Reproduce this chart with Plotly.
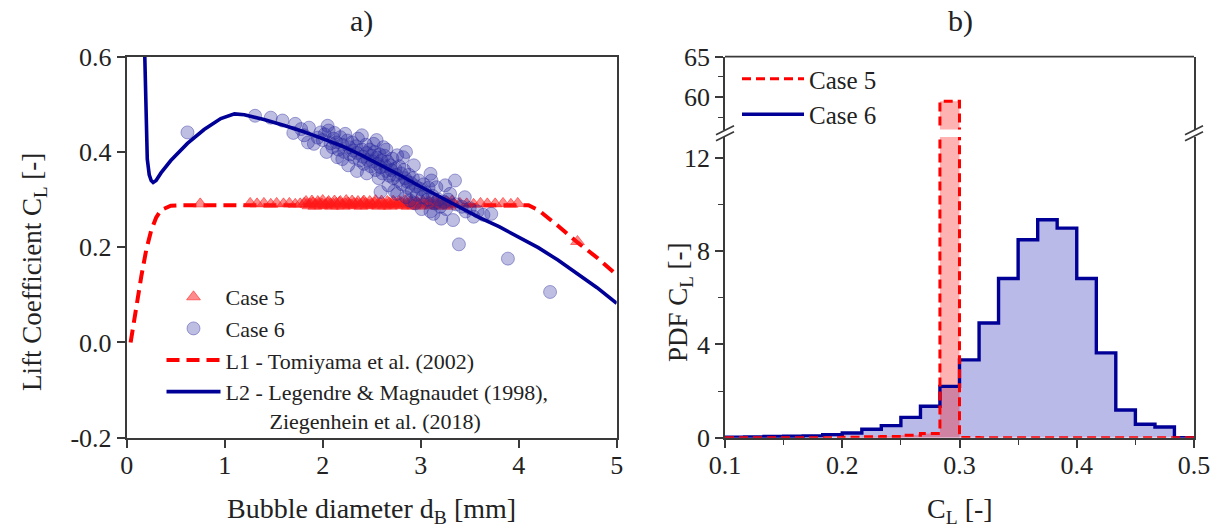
import plotly.graph_objects as go

W, H = 1223, 530
FONT = "Liberation Serif"
INK = "#222222"
AXIS = "#3a3a3a"

# ---------------- panel a): lift coefficient vs bubble diameter ----------------
# L1 - Tomiyama et al. (2002)
l1_d = [0.04, 0.10, 0.15, 0.20, 0.25, 0.30, 0.35, 0.45, 0.55, 4.10, 4.20, 4.40, 4.60, 4.80, 5.00]
l1_cl = [0.000, 0.080, 0.140, 0.195, 0.235, 0.262, 0.278, 0.287, 0.288, 0.288, 0.278, 0.245, 0.210, 0.178, 0.142]

# L2 - Legendre & Magnaudet (1998), Ziegenhein et al. (2018)
l2_d = [0.18, 0.19, 0.20, 0.21, 0.23, 0.25, 0.27, 0.30, 0.35, 0.45, 0.62, 0.79, 0.96, 1.10,
        1.20, 1.40, 1.60, 1.80, 2.00, 2.20, 2.40, 2.60, 2.80, 3.00, 3.20, 3.40, 3.60,
        3.80, 4.00, 4.20, 4.40, 4.60, 4.80, 5.00]
l2_cl = [0.640, 0.520, 0.430, 0.385, 0.352, 0.340, 0.336, 0.340, 0.356, 0.382, 0.418, 0.447,
         0.470, 0.480, 0.478, 0.468, 0.456, 0.443, 0.428, 0.412, 0.393, 0.372, 0.350, 0.327,
         0.305, 0.283, 0.262, 0.243, 0.222, 0.199, 0.173, 0.145, 0.115, 0.082]

# Case 5 bubbles
case5_d = [0.75, 1.26, 1.33, 1.40, 1.47, 1.53, 1.60, 1.66, 1.72, 1.77, 1.81, 1.84, 1.87, 1.90,
           1.93, 1.96, 1.99, 2.02, 2.05, 2.08, 2.11, 2.14, 2.17, 2.20, 2.23, 2.26, 2.29, 2.32,
           2.35, 2.38, 2.41, 2.44, 2.47, 2.50, 2.53, 2.56, 2.59, 2.62, 2.65, 2.68, 2.71, 2.74,
           2.77, 2.80, 2.83, 2.86, 2.89, 2.92, 2.95, 2.98, 3.01, 3.04, 3.07, 3.10, 3.13, 3.16,
           3.19, 3.22, 3.25, 3.28, 3.31, 3.34, 3.40, 3.47, 3.54, 3.61, 3.68, 3.76, 3.84, 3.92,
           3.99, 4.60,
           1.83, 1.89, 1.95, 2.00, 2.06, 2.12, 2.18, 2.24, 2.30, 2.36, 2.42, 2.48, 2.54, 2.60,
           2.66, 2.72, 2.78, 2.84, 2.90, 2.96, 3.02, 3.08, 3.14, 3.20, 3.26, 3.32,
           1.86, 1.92, 1.98, 2.03, 2.09, 2.15, 2.21, 2.27, 2.33, 2.39, 2.45, 2.51, 2.57, 2.63,
           2.69, 2.75, 2.81, 2.87, 2.93, 2.99, 3.05, 3.11, 3.17, 3.23, 3.29]
case5_cl = [0.291, 0.292, 0.291, 0.292, 0.290, 0.292, 0.291, 0.292, 0.290, 0.291, 0.292, 0.290,
            0.291, 0.293, 0.290, 0.292, 0.291, 0.289, 0.293, 0.291, 0.290, 0.292, 0.294, 0.290,
            0.291, 0.293, 0.289, 0.292, 0.291, 0.290, 0.294, 0.292, 0.289, 0.291, 0.293, 0.290,
            0.292, 0.291, 0.289, 0.293, 0.290, 0.292, 0.291, 0.294, 0.290, 0.291, 0.292, 0.289,
            0.293, 0.291, 0.290, 0.292, 0.291, 0.293, 0.290, 0.291, 0.292, 0.290, 0.291, 0.292,
            0.290, 0.291, 0.292, 0.291, 0.290, 0.292, 0.291, 0.291, 0.292, 0.290, 0.292, 0.212,
            0.296, 0.297, 0.296, 0.298, 0.296, 0.297, 0.296, 0.298, 0.297, 0.296, 0.297, 0.296,
            0.298, 0.297, 0.296, 0.297, 0.296, 0.298, 0.297, 0.296, 0.297, 0.296, 0.298, 0.297,
            0.296, 0.297,
            0.287, 0.286, 0.287, 0.288, 0.286, 0.287, 0.286, 0.288, 0.287, 0.286, 0.287, 0.288,
            0.286, 0.287, 0.286, 0.288, 0.287, 0.286, 0.287, 0.286, 0.288, 0.287, 0.286, 0.287,
            0.286]

# Case 6 bubbles
case6_d = [0.62, 1.31, 1.47, 1.59, 1.72, 1.86, 1.81, 1.91, 1.98, 2.06, 2.11, 2.18, 2.25, 2.04,
           2.15, 2.31, 2.38, 2.52, 2.62, 2.59, 2.76, 2.82, 2.93, 3.10, 3.11, 3.35, 3.16, 3.30,
           2.59, 2.76, 2.89, 3.13, 3.21, 3.33, 3.54, 3.72, 3.39, 3.89, 4.32,
           1.95, 2.00, 2.02, 2.08, 2.10, 2.12, 2.14, 2.16, 2.20, 2.22, 2.23, 2.27, 2.28, 2.30,
           2.32, 2.34, 2.35, 2.36, 2.40, 2.41, 2.42, 2.44, 2.45, 2.46, 2.48, 2.49, 2.50, 2.51,
           2.53, 2.54, 2.55, 2.56, 2.58, 2.60, 2.61, 2.63, 2.64, 2.65, 2.66, 2.68, 2.69, 2.70,
           2.71, 2.72, 2.74, 2.75, 2.77, 2.78, 2.80, 2.81, 2.83, 2.84, 2.86, 2.87, 2.88, 2.90,
           2.91, 2.92, 2.95, 2.96, 2.98, 3.00, 3.02, 3.03, 3.05, 3.07, 3.08, 3.12, 3.14, 3.18,
           3.20, 3.24, 3.26, 3.28, 3.36, 3.42, 3.46, 3.50, 3.58, 3.64, 2.35, 2.45, 2.57, 2.67,
           2.73, 2.85, 2.94, 3.01, 3.10, 2.20, 2.26, 1.85, 1.78, 1.70, 2.05, 2.40, 2.55, 2.65,
           2.85, 3.25, 3.45]
case6_cl = [0.441, 0.476, 0.472, 0.466, 0.459, 0.451, 0.435, 0.417, 0.441, 0.445, 0.428, 0.431,
            0.424, 0.400, 0.389, 0.403, 0.382, 0.417, 0.410, 0.368, 0.393, 0.389, 0.372, 0.354,
            0.340, 0.340, 0.326, 0.312, 0.316, 0.312, 0.298, 0.270, 0.260, 0.257, 0.264, 0.270,
            0.206, 0.176, 0.106,
            0.430, 0.425, 0.437, 0.418, 0.410, 0.440, 0.420, 0.405, 0.415, 0.400, 0.438, 0.410,
            0.395, 0.420, 0.388, 0.412, 0.398, 0.428, 0.405, 0.390, 0.375, 0.415, 0.398, 0.383,
            0.405, 0.370, 0.392, 0.380, 0.400, 0.362, 0.388, 0.375, 0.395, 0.382, 0.355, 0.392,
            0.370, 0.360, 0.380, 0.350, 0.372, 0.362, 0.386, 0.345, 0.365, 0.352, 0.340, 0.370,
            0.355, 0.332, 0.362, 0.345, 0.338, 0.325, 0.352, 0.335, 0.318, 0.345, 0.328, 0.310,
            0.340, 0.322, 0.305, 0.332, 0.315, 0.300, 0.325, 0.308, 0.292, 0.300, 0.285, 0.295,
            0.280, 0.300, 0.290, 0.285, 0.275, 0.282, 0.275, 0.268, 0.360, 0.355, 0.345, 0.330,
            0.318, 0.305, 0.292, 0.280, 0.275, 0.385, 0.372, 0.420, 0.448, 0.440, 0.455, 0.435,
            0.425, 0.405, 0.400, 0.330, 0.305]

# ---------------- panel b): PDF of the lift coefficient ----------------
bin_edges = [0.1000, 0.1167, 0.1333, 0.1500, 0.1667, 0.1833, 0.2000, 0.2167, 0.2333, 0.2500,
             0.2667, 0.2833, 0.3000, 0.3167, 0.3333, 0.3500, 0.3667, 0.3833, 0.4000, 0.4167,
             0.4333, 0.4500, 0.4667, 0.4833, 0.5000]
pdf_case5 = [0.00, 0.00, 0.00, 0.00, 0.00, 0.00, 0.02, 0.04, 0.05, 0.10, 0.18, 59.5,
             0.01, 0.00, 0.00, 0.00, 0.00, 0.00, 0.00, 0.00, 0.00, 0.00, 0.00, 0.00]
pdf_case6 = [0.02, 0.03, 0.05, 0.06, 0.08, 0.13, 0.20, 0.36, 0.52, 0.87, 1.35, 2.20,
             3.34, 4.92, 6.83, 8.49, 9.35, 8.99, 6.83, 3.64, 1.19, 0.58, 0.46, 0.00]

# step outlines: one point per bin edge, closed back to zero at the last edge
step_y5 = pdf_case5 + [0.0]
step_y6 = pdf_case6 + [0.0]


def px_x(p):
    return p / W


def px_y(p):
    return (H - p) / H


# plot-area geometry (pixels)
A_X0, A_X1 = 126.7, 616.7
B_X0, B_X1 = 725.0, 1194.0
Y_BOT, Y_TOP = 437.7, 56.7
B_LOW_TOP = 137.0
B_UP_BOT = 129.5

RED = "rgb(255,0,0)"
NAVY = "rgb(0,0,150)"

fig = go.Figure()

# panel a) traces
fig.add_trace(go.Scatter(
    x=l1_d, y=l1_cl, mode="lines", name="L1 - Tomiyama et al. (2002)",
    line=dict(color=RED, width=4, dash="13px,7px"), legendrank=3,
    xaxis="x", yaxis="y", legend="legend"))
fig.add_trace(go.Scatter(
    x=case5_d, y=case5_cl, mode="markers", name="Case 5",
    marker=dict(symbol="triangle-up", size=12, color="rgba(255,25,25,0.5)",
                line=dict(width=1, color="rgba(255,25,25,0.55)")),
    legendrank=1, xaxis="x", yaxis="y", legend="legend"))
fig.add_trace(go.Scatter(
    x=case6_d, y=case6_cl, mode="markers", name="Case 6",
    marker=dict(symbol="circle", size=13, color="rgba(40,40,160,0.3)",
                line=dict(width=1, color="rgba(40,40,160,0.4)")),
    legendrank=2, xaxis="x", yaxis="y", legend="legend"))
fig.add_trace(go.Scatter(
    x=l2_d, y=l2_cl, mode="lines",
    name="L2 - Legendre & Magnaudet (1998),<br>" + "\u00a0" * 8 + "Ziegenhein et al. (2018)",
    line=dict(color=NAVY, width=3.6), legendrank=4,
    xaxis="x", yaxis="y", legend="legend"))

# panel b) fills
fig.add_trace(go.Scatter(
    x=bin_edges, y=step_y6, mode="lines", line=dict(width=0, shape="hv"),
    fill="tozeroy", fillcolor="rgba(0,0,170,0.27)", showlegend=False, hoverinfo="skip",
    xaxis="x2", yaxis="y3"))
for ya in ("y3", "y4"):
    fig.add_trace(go.Scatter(
        x=bin_edges, y=step_y5, mode="lines", line=dict(width=0, shape="hv"),
        fill="tozeroy", fillcolor="rgba(255,0,0,0.30)", showlegend=False, hoverinfo="skip",
        xaxis="x2", yaxis=ya))

# panel b) outlines
fig.add_trace(go.Scatter(
    x=bin_edges, y=step_y6, mode="lines", name="Case 6",
    line=dict(color=NAVY, width=3.4, shape="hv"), legendrank=2,
    xaxis="x2", yaxis="y3", legend="legend2"))
fig.add_trace(go.Scatter(
    x=bin_edges, y=step_y5, mode="lines", name="Case 5",
    line=dict(color=RED, width=3, shape="hv", dash="9px,5px"), legendrank=1,
    xaxis="x2", yaxis="y3", legend="legend2"))
fig.add_trace(go.Scatter(
    x=bin_edges, y=step_y5, mode="lines", showlegend=False,
    line=dict(color=RED, width=3, shape="hv", dash="9px,5px"),
    xaxis="x2", yaxis="y4"))

tick_font = dict(family=FONT, size=26, color=INK)
axis_common = dict(showgrid=False, zeroline=False, showline=True, linecolor=AXIS,
                   linewidth=1.8, ticks="outside", ticklen=8, tickwidth=1.6,
                   tickcolor=AXIS, tickfont=tick_font, automargin=False)

fig.update_layout(
    width=W, height=H, margin=dict(l=0, r=0, t=0, b=0, autoexpand=False),
    paper_bgcolor="white", plot_bgcolor="rgba(0,0,0,0)",
    font=dict(family=FONT, color=INK),
    xaxis=dict(domain=[px_x(A_X0), px_x(A_X1)], range=[0, 5],
               tickvals=[0, 1, 2, 3, 4, 5], mirror=True, anchor="y",
               ticklabelstandoff=-5, **axis_common),
    yaxis=dict(domain=[px_y(Y_BOT), px_y(Y_TOP)], range=[-0.2, 0.6],
               tickvals=[-0.2, 0.0, 0.2, 0.4, 0.6],
               ticktext=["-0.2", "0.0", "0.2", "0.4", "0.6"],
               mirror=True, anchor="x", **axis_common),
    xaxis2=dict(domain=[px_x(B_X0), px_x(B_X1)], range=[0.1, 0.5],
                tickvals=[0.1, 0.2, 0.3, 0.4, 0.5],
                minor=dict(tickvals=[0.15, 0.25, 0.35, 0.45], ticklen=5,
                           tickwidth=1.4, tickcolor=AXIS, ticks="outside"),
                anchor="y3", ticklabelstandoff=-5, **axis_common),
    yaxis3=dict(domain=[px_y(Y_BOT), px_y(B_LOW_TOP)], range=[0, 12.9],
                tickvals=[0, 4, 8, 12],
                minor=dict(tickvals=[2, 6, 10], ticklen=5, tickwidth=1.4,
                           tickcolor=AXIS, ticks="outside"),
                mirror=True, anchor="x2", **axis_common),
    yaxis4=dict(domain=[px_y(B_UP_BOT), px_y(Y_TOP)], range=[56, 65],
                tickvals=[60, 65],
                minor=dict(tickvals=[57.5, 62.5], ticklen=5, tickwidth=1.4,
                           tickcolor=AXIS, ticks="outside"),
                mirror=True, anchor="x2", **axis_common),
    legend=dict(x=px_x(161.5), y=px_y(276), xanchor="left", yanchor="top",
                font=dict(family=FONT, size=22, color=INK), itemwidth=54,
                valign="top", bgcolor="rgba(0,0,0,0)", tracegroupgap=0),
    legend2=dict(x=px_x(737), y=px_y(56), xanchor="left", yanchor="top",
                 font=dict(family=FONT, size=25, color=INK), itemwidth=62,
                 bgcolor="rgba(0,0,0,0)", tracegroupgap=0),
)

# top border of panel b)
shapes = [dict(type="line", xref="paper", yref="paper",
               x0=px_x(B_X0), x1=px_x(B_X1), y0=px_y(Y_TOP), y1=px_y(Y_TOP),
               line=dict(color=AXIS, width=1.8))]
# axis-break marks on both sides of panel b)
yb = (B_UP_BOT + B_LOW_TOP) / 2
for xc in (B_X0, B_X1):
    for off in (-3.0, 3.0):
        shapes.append(dict(type="line", xref="paper", yref="paper",
                           x0=px_x(xc - 9), y0=px_y(yb + off + 4.5),
                           x1=px_x(xc + 9), y1=px_y(yb + off - 4.5),
                           line=dict(color=AXIS, width=1.8)))
fig.update_layout(shapes=shapes)

title_font = dict(family=FONT, size=28, color=INK)
vtitle_font = dict(family=FONT, size=27, color=INK)
annotations = [
    dict(text="a)", x=px_x(361), y=px_y(21), font=dict(family=FONT, size=30, color=INK)),
    dict(text="b)", x=px_x(960), y=px_y(21), font=dict(family=FONT, size=30, color=INK)),
    dict(text="Lift Coefficient C<sub>L</sub> [-]", x=px_x(34), y=px_y(272),
         textangle=-90, font=vtitle_font),
    dict(text="Bubble diameter d<sub>B</sub> [mm]", x=px_x(372), y=px_y(510), font=title_font),
    dict(text="PDF C<sub>L</sub> [-]", x=px_x(680), y=px_y(302), textangle=-90, font=vtitle_font),
    dict(text="C<sub>L</sub> [-]", x=px_x(960), y=px_y(510), font=title_font),
]
for a in annotations:
    a.update(xref="paper", yref="paper", showarrow=False, xanchor="center", yanchor="middle")
fig.update_layout(annotations=annotations)

fig.write_html("out.html")
